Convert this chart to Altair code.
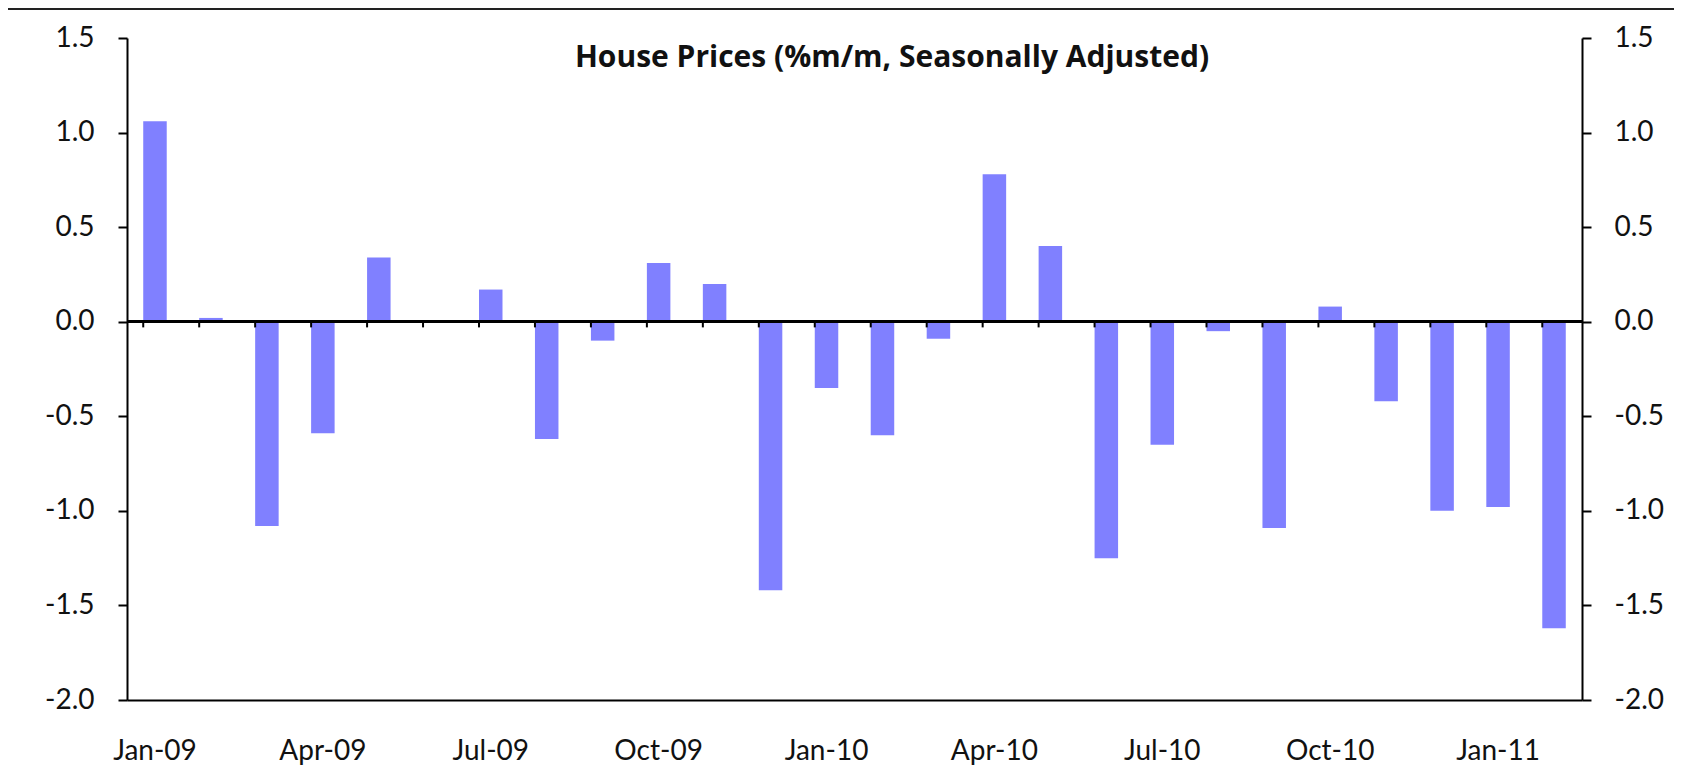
import altair as alt
import pandas as pd

months = ["Jan-09", "Feb-09", "Mar-09", "Apr-09", "May-09", "Jun-09", "Jul-09", "Aug-09",
          "Sep-09", "Oct-09", "Nov-09", "Dec-09", "Jan-10", "Feb-10", "Mar-10", "Apr-10",
          "May-10", "Jun-10", "Jul-10", "Aug-10", "Sep-10", "Oct-10", "Nov-10", "Dec-10",
          "Jan-11", "Feb-11"]
values = [1.06, 0.02, -1.08, -0.59, 0.34, 0.0, 0.17, -0.62, -0.10, 0.31, 0.20, -1.42,
          -0.35, -0.60, -0.09, 0.78, 0.40, -1.25, -0.65, -0.05, -1.09, 0.08, -0.42, -1.00,
          -0.98, -1.62]
x_labels = ["Jan-09", "Apr-09", "Jul-09", "Oct-09", "Jan-10", "Apr-10", "Jul-10",
            "Oct-10", "Jan-11"]
y_ticks = [-2.0, -1.5, -1.0, -0.5, 0.0, 0.5, 1.0, 1.5]
title_text = "House Prices (%m/m, Seasonally Adjusted)"

df = pd.DataFrame({"month": months, "value": values})

FONT = "Lato, Liberation Sans, sans-serif"
TFONT = "Open Sans, Lato, sans-serif"
LBL = "datum.value < 0 ? '-' + format(-datum.value, '.1f') : format(datum.value, '.1f')"

xscale = alt.Scale(paddingInner=0.58, paddingOuter=0.29)
yscale = alt.Scale(domain=[-2.0, 1.5], nice=False, zero=False)

x_axis = alt.Axis(values=x_labels, ticks=False, labelAngle=0, labelFont=FONT,
                  labelFontSize=28, labelColor="#111", labelPadding=37,
                  domainColor="#000", domainWidth=2, title=None, grid=False)

left_axis = alt.Axis(values=y_ticks, labelExpr=LBL, tickSize=9, tickColor="#000",
                     tickWidth=2, domainColor="#000", domainWidth=2, labelFont=FONT,
                     labelFontSize=28, labelColor="#111", labelPadding=24, title=None,
                     grid=False, orient="left")
right_axis = alt.Axis(values=y_ticks, labelExpr=LBL, tickSize=9, tickColor="#000",
                      tickWidth=2, domainColor="#000", domainWidth=2, labelFont=FONT,
                      labelFontSize=28, labelColor="#111", labelPadding=23, title=None,
                      grid=False, orient="right")

def xe(**kw):
    return alt.X("month:N", sort=months, scale=xscale, axis=x_axis, **kw)

bars = alt.Chart(df).mark_bar(color="#8080FF").encode(
    x=xe(),
    y=alt.Y("value:Q", scale=yscale, axis=left_axis),
)

bars_right = alt.Chart(df).mark_bar(opacity=0).encode(
    x=xe(),
    y=alt.Y("value:Q", scale=yscale, axis=right_axis),
)

base = alt.Chart(df).transform_calculate(zero="0", tick_end="-0.03")

zero_line = base.mark_rule(color="#000", strokeWidth=2).encode(
    y=alt.Y("zero:Q", scale=yscale, axis=None)
)

zero_ticks = base.mark_rule(color="#000", strokeWidth=2).encode(
    x=xe(bandPosition=0),
    y=alt.Y("zero:Q", scale=yscale, axis=None),
    y2="tick_end:Q",
)

title_df = pd.DataFrame({"t": [title_text]})
title = alt.Chart(title_df).mark_text(
    font=TFONT, fontSize=30, fontWeight="bold", color="#111", align="center",
    baseline="alphabetic"
).encode(text="t:N", x=alt.value(765), y=alt.value(29))

top_rule = alt.Chart(title_df).mark_rule(color="#222", strokeWidth=2).encode(
    x=alt.value(-127), x2=alt.value(1563), y=alt.value(-29)
)

chart = alt.layer(bars, bars_right, zero_line, zero_ticks, title, top_rule).resolve_axis(
    y="independent"
).properties(
    width=1455, height=662,
    autosize=alt.AutoSizeParams(type="none"),
    padding={"left": 119, "top": 30, "right": 92, "bottom": 66},
).configure_view(stroke=None)

chart.save("out.html", embed_options={"renderer": "svg", "actions": False})
